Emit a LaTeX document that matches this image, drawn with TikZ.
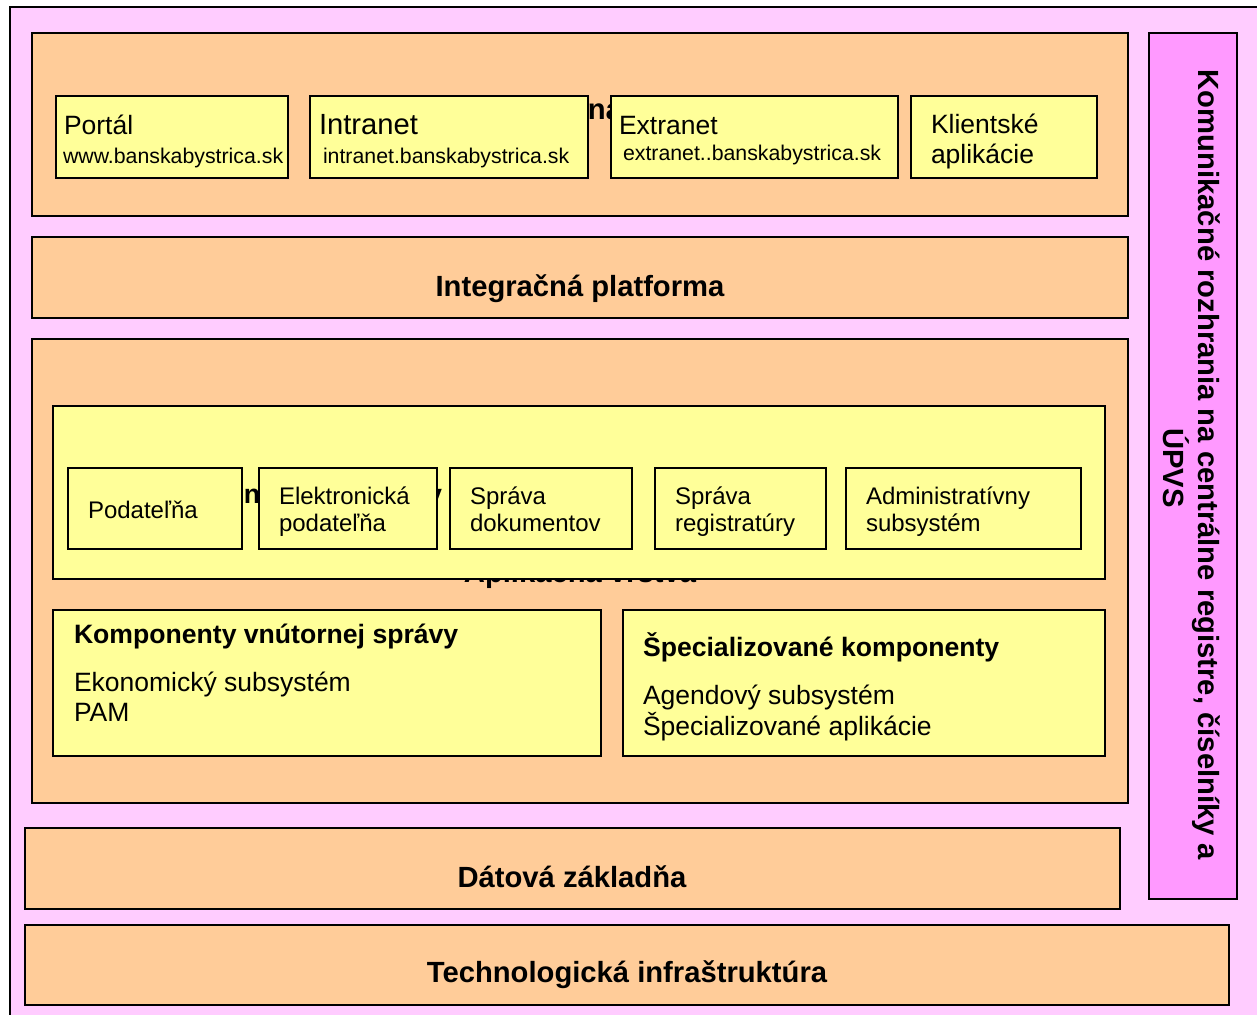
\documentclass[tikz,border=0pt]{standalone}
\usepackage{fontspec}
\setmainfont{Liberation Sans}
\definecolor{bgpink}{HTML}{FFCCFF}
\definecolor{layerorange}{HTML}{FFCC99}
\definecolor{panelyellow}{HTML}{FFFF99}
\definecolor{colmagenta}{HTML}{FF99FF}
\tikzset{
  frame/.style={draw=black, line width=1.6pt, inner sep=0pt, outer sep=0pt, anchor=north west},
  layer/.style={frame, fill=layerorange},
  panel/.style={frame, fill=panelyellow},
  colbox/.style={frame, fill=colmagenta},
  txt/.style={inner sep=0pt, outer sep=0pt, anchor=base west},
  bigtitle/.style={inner sep=0pt, outer sep=0pt, anchor=base, font=\fontsize{29.2}{35}\selectfont\bfseries},
  subtitle/.style={txt, font=\fontsize{26.6}{31}\selectfont\bfseries},
  bigtxt/.style={txt, font=\fontsize{26.5}{31}\selectfont},
  midtxt/.style={txt, font=\fontsize{24}{27}\selectfont},
  urltxt/.style={txt, font=\fontsize{21.3}{25}\selectfont},
}
\begin{document}
\begin{tikzpicture}[x=1pt, y=-1pt]
\useasboundingbox (0,0) rectangle (1257,1014);
\clip (0,0) rectangle (1257,1014);

% background frame of the whole architecture
\node[frame, fill=bgpink, minimum width=1300pt, minimum height=1060pt] (bg) at (10,7) {};

% presentation layer
\node[layer, minimum width=1096pt, minimum height=183pt] (pres) at (32,33) {};
\node[txt, font=\fontsize{29.2}{35}\selectfont\bfseries] (presT) at (450,120) {Prezentačná vrstva};
\node[panel, minimum width=232pt, minimum height=82pt] (portal) at (56,96) {};
\node[bigtxt] (portalA) at (64,134) {Portál};
\node[urltxt] (portalB) at (63,163) {www.banskabystrica.sk};
\node[panel, minimum width=278pt, minimum height=82pt] (intra) at (310,96) {};
\node[txt, font=\fontsize{29.2}{35}\selectfont] (intraA) at (319,135) {Intranet};
\node[urltxt] (intraB) at (323,163) {intranet.banskabystrica.sk};
\node[panel, minimum width=287pt, minimum height=82pt] (extra) at (611,96) {};
\node[bigtxt] (extraA) at (619,135) {Extranet};
\node[urltxt] (extraB) at (623,160) {extranet..banskabystrica.sk};
\node[panel, minimum width=186pt, minimum height=82pt] (client) at (911,96) {};
\node[bigtxt] (clientA) at (931,133) {Klientské};
\node[bigtxt] (clientB) at (931,163) {aplikácie};

% integration platform
\node[layer, minimum width=1096pt, minimum height=81pt] (integ) at (32,237) {};
\node[bigtitle] (integT) at (580,296) {Integračná platforma};

% application layer
\node[layer, minimum width=1096pt, minimum height=464pt] (app) at (32,339) {};
\node[bigtitle] (appT) at (580,582) {Aplikačná vrstva};
\node[panel, minimum width=1052pt, minimum height=173pt] (core) at (53,406) {};
\node[txt, font=\fontsize{26.8}{32}\selectfont\bfseries] (coreT) at (159,503) {Základné komponenty};
\node[panel, minimum width=174pt, minimum height=81pt] (pod) at (68,468) {};
\node[midtxt] (podA) at (88,518) {Podateľňa};
\node[panel, minimum width=178pt, minimum height=81pt] (epod) at (259,468) {};
\node[midtxt] (epodA) at (279,504) {Elektronická};
\node[midtxt] (epodB) at (279,531) {podateľňa};
\node[panel, minimum width=182pt, minimum height=81pt] (dms) at (450,468) {};
\node[midtxt] (dmsA) at (470,504) {Správa};
\node[midtxt] (dmsB) at (470,531) {dokumentov};
\node[panel, minimum width=171pt, minimum height=81pt] (reg) at (655,468) {};
\node[midtxt] (regA) at (675,504) {Správa};
\node[midtxt] (regB) at (675,531) {registratúry};
\node[panel, minimum width=235pt, minimum height=81pt] (adm) at (846,468) {};
\node[midtxt] (admA) at (866,504) {Administratívny};
\node[midtxt] (admB) at (866,531) {subsystém};

\node[panel, minimum width=548pt, minimum height=146pt] (internal) at (53,610) {};
\node[subtitle] (internalT) at (74,643) {Komponenty vnútornej správy};
\node[bigtxt] (internalA) at (74,691) {Ekonomický subsystém};
\node[bigtxt] (internalB) at (74,721) {PAM};
\node[panel, minimum width=482pt, minimum height=146pt] (special) at (623,610) {};
\node[subtitle] (specialT) at (643,656) {Špecializované komponenty};
\node[bigtxt] (specialA) at (643,704) {Agendový subsystém};
\node[bigtxt] (specialB) at (643,735) {Špecializované aplikácie};

% data and infrastructure layers
\node[layer, minimum width=1095pt, minimum height=81pt] (data) at (25,828) {};
\node[bigtitle] (dataT) at (572,887) {Dátová základňa};
\node[layer, minimum width=1204pt, minimum height=80pt] (tech) at (25,925) {};
\node[bigtitle] (techT) at (627,982) {Technologická infraštruktúra};

% communication interfaces column
\node[colbox, minimum width=88pt, minimum height=866pt] (comm) at (1149,33) {};
\node[bigtitle, rotate=-90] (commA) at (1198,465) {Komunikačné rozhrania na centrálne registre, číselníky a};
\node[bigtitle, rotate=-90] (commB) at (1163,468) {ÚPVS};
\end{tikzpicture}
\end{document}
